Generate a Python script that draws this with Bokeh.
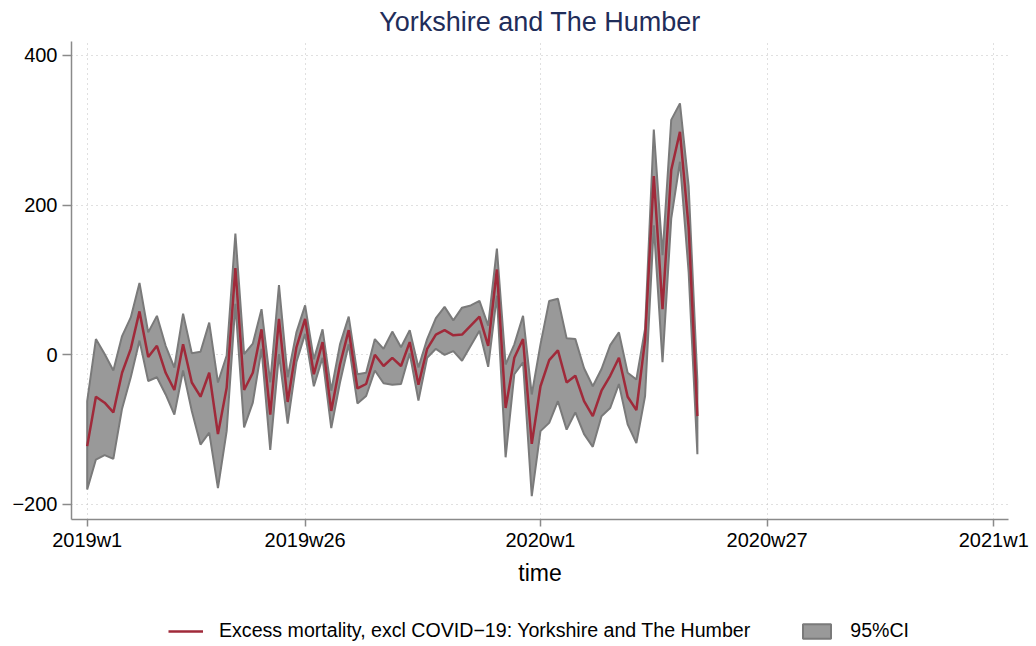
from bokeh.plotting import figure
from bokeh.models import FixedTicker, Legend, LegendItem, Range1d, ColumnDataSource
from bokeh.layouts import column
from bokeh.embed import file_html
from bokeh.resources import INLINE

# ---- data -------------------------------------------------------------
tick_weeks = [0, 25, 52, 78, 104]
tick_labels = ["2019w1", "2019w26", "2020w1", "2020w27", "2021w1"]
y_ticks = [-200, 0, 200, 400]

week = list(range(71))  # 2019w1 ... 2020w19

excess = [-122, -56, -64, -77, -24, 8, 58, -3, 12, -24,
          -47, 14, -37, -56, -24, -106, -44, 116, -47, -24,
          34, -80, 48, -63, 10, 48, -26, 17, -75, -13,
          33, -45, -39, 0, -15, -4, -15, 17, -40, 8,
          27, 33, 26, 27, 39, 51, 12, 114, -71, -4,
          21, -119, -42, -7, 6, -37, -28, -62, -82, -48,
          -28, -4, -56, -74, 20, 239, 61, 247, 298, 170,
          -82]

ci_upper = [-62, 21, 1, -21, 25, 50, 96, 30, 52, 12,
            -17, 55, 2, 4, 43, -37, -1, 162, 1, 15,
            61, -37, 93, -30, 30, 66, -6, 34, -48, 14,
            51, -26, -24, 21, 8, 31, 10, 33, -17, 21,
            49, 64, 46, 63, 66, 72, 39, 142, -13, 14,
            52, -53, 14, 72, 75, 22, 21, -18, -42, -19,
            13, 30, -24, -33, 35, 301, 133, 314, 336, 225,
            -35]

ci_lower = [-180, -140, -134, -139, -72, -30, 19, -35, -30, -53,
            -80, -21, -75, -120, -104, -178, -102, 68, -97, -64,
            8, -127, 1, -92, -10, 28, -42, -4, -98, -37,
            14, -65, -55, -21, -38, -40, -39, 2, -61, -4,
            8, 0, 5, -8, 12, 32, -16, 79, -137, -26,
            -10, -189, -102, -91, -62, -100, -77, -106, -123, -82,
            -71, -39, -93, -118, -55, 173, -10, 182, 258, 110,
            -133]

title_text = "Yorkshire and The Humber"
line_label = "Excess mortality, excl COVID\u221219: Yorkshire and The Humber"
band_label = "95%CI"

FONT = "Liberation Sans"
AXIS_GRAY = "#8a8a8a"
LINE_COLOR = "#a02a3a"
BAND_FILL = "#999999"
BAND_LINE = "#7a7a7a"

line_src = ColumnDataSource(data=dict(x=week, y=excess))
band_src = ColumnDataSource(data=dict(x=week + week[::-1],
                                      y=ci_upper + ci_lower[::-1]))

# ---- main figure ------------------------------------------------------
p = figure(width=1036, height=590, output_backend="svg", toolbar_location=None,
           x_range=Range1d(-1.80, 105.69), y_range=Range1d(-220.1, 418.7),
           min_border_left=71, min_border_right=28, min_border_top=41,
           min_border_bottom=71)
p.outline_line_color = None
p.background_fill_color = "white"
p.border_fill_color = "white"

p.title.text = title_text
p.title.align = "center"
p.title.text_font = FONT
p.title.text_font_size = "27px"
p.title.text_font_style = "normal"
p.title.text_color = "#1f2d5a"
p.title.standoff = 9

band = p.patch("x", "y", source=band_src, fill_color=BAND_FILL, fill_alpha=1.0,
               line_color=BAND_LINE, line_width=2)
ln = p.line("x", "y", source=line_src, line_color=LINE_COLOR, line_width=2.5)

# axes
xa = p.xaxis[0]
xa.ticker = FixedTicker(ticks=tick_weeks)
xa.major_label_overrides = {w: l for w, l in zip(tick_weeks, tick_labels)}
xa.axis_label = "time"
ya = p.yaxis[0]
ya.ticker = FixedTicker(ticks=y_ticks)
ya.major_label_overrides = {v: (("\u2212" + str(-v)) if v < 0 else str(v)) for v in y_ticks}

for ax in (xa, ya):
    ax.axis_line_color = AXIS_GRAY
    ax.axis_line_width = 1.5
    ax.major_tick_line_color = AXIS_GRAY
    ax.major_tick_line_width = 1.5
    ax.major_tick_in = 0
    ax.minor_tick_line_color = None
    ax.major_label_text_font = FONT
    ax.major_label_text_font_size = "20px"
    ax.major_label_text_color = "black"
    ax.axis_label_text_font = FONT
    ax.axis_label_text_font_size = "23px"
    ax.axis_label_text_font_style = "normal"
    ax.axis_label_text_color = "black"
xa.major_tick_out = 7
ya.major_tick_out = 9
xa.major_label_standoff = 2
ya.major_label_standoff = 5
xa.axis_label_standoff = 6

# grids
p.xgrid.ticker = FixedTicker(ticks=tick_weeks)
p.ygrid.ticker = FixedTicker(ticks=y_ticks)
for g in (p.xgrid[0], p.ygrid[0]):
    g.grid_line_color = "#c0c0c0"
    g.grid_line_dash = "1 4"
    g.grid_line_width = 1

# ---- legend strip (same series, view window set away from the data) ----
q = figure(width=1036, height=56, output_backend="svg", toolbar_location=None,
           x_range=Range1d(1000, 1001), y_range=Range1d(1000, 1001),
           x_axis_location=None, y_axis_location=None,
           min_border_left=0, min_border_right=0, min_border_top=0, min_border_bottom=0)
q.outline_line_color = None
q.grid.visible = False
q.border_fill_color = "white"
q.background_fill_color = "white"
q_band = q.patch("x", "y", source=band_src, fill_color=BAND_FILL, fill_alpha=1.0,
                 line_color=BAND_LINE, line_width=2)
q_line = q.line("x", "y", source=line_src, line_color=LINE_COLOR, line_width=2.5)

legend = Legend(items=[LegendItem(label=line_label, renderers=[q_line]),
                       LegendItem(label=band_label, renderers=[q_band])],
                orientation="horizontal", location=(97, 4),
                glyph_width=35, glyph_height=18, label_height=18,
                label_standoff=16, spacing=49, padding=0, margin=0,
                border_line_alpha=0, background_fill_alpha=0,
                label_text_font=FONT, label_text_font_size="19.6px",
                label_text_color="black")
q.add_layout(legend, "center")

layout = column(p, q, spacing=0)
open("out.html", "w").write(file_html(layout, INLINE))
